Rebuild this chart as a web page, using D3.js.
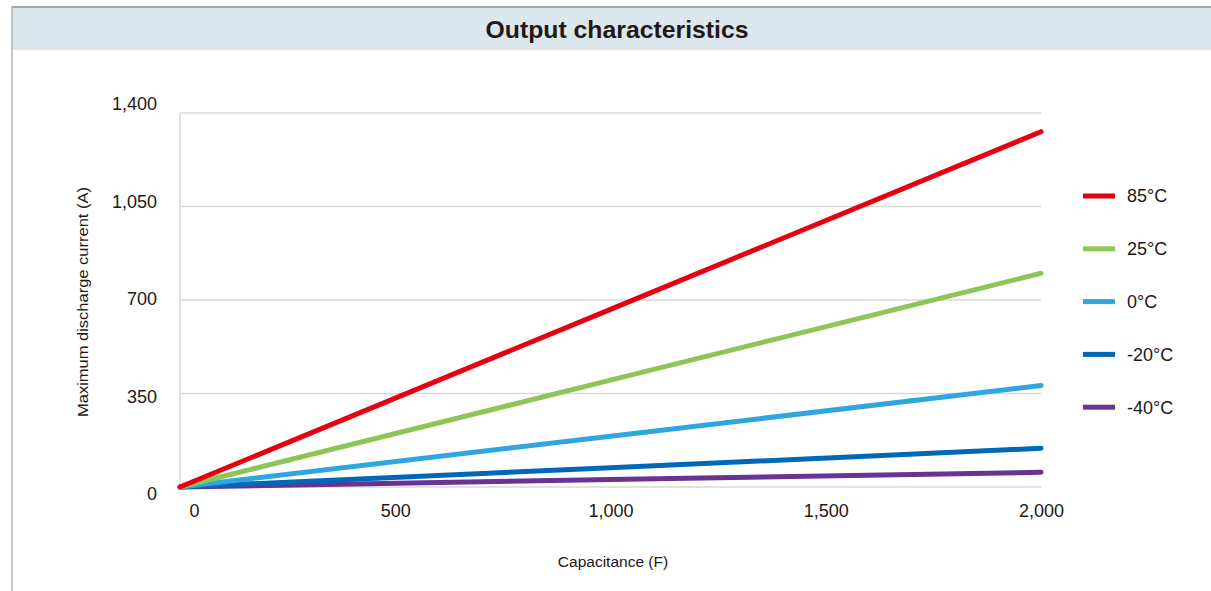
<!DOCTYPE html>
<html>
<head>
<meta charset="utf-8">
<script src="https://cdn.jsdelivr.net/npm/d3@7"></script>
<style>
  html, body { margin: 0; padding: 0; background: #fff; }
  svg { display: block; font-family: "Liberation Sans", Arial, Helvetica, sans-serif; }
</style>
</head>
<body>
<svg id="chart" width="1211" height="591"></svg>
<script>
// ---- data ----
const capacitance = [0, 1000, 2000];
const seriesNames = ["85°C", "25°C", "0°C", "-20°C", "-40°C"];
const current85 = [0, 665, 1330];
const current25 = [0, 400, 800];
const current0 = [0, 190, 380];
const currentM20 = [0, 72, 145];
const currentM40 = [0, 28, 55];
const seriesColors = ["#e60012", "#8dc556", "#2ea7e0", "#0068b7", "#6a3291"];
const yTicks = [0, 350, 700, 1050, 1400];
const xTicks = [0, 500, 1000, 1500, 2000];
const titleText = "Output characteristics";
const xTitle = "Capacitance (F)";
const yTitle = "Maximum discharge current (A)";

const seriesValues = [current85, current25, current0, currentM20, currentM40];
const series = seriesNames.map((n, i) => ({
  name: n, color: seriesColors[i],
  points: capacitance.map((c, j) => ({ x: c, y: seriesValues[i][j] }))
}));

const svg = d3.select("#chart");
const W = 1211, H = 591;
const textColor = "#231815";
const tickFont = 18;

// frame + title band
svg.append("rect").attr("x", 12).attr("y", 7).attr("width", W - 12).attr("height", 43).attr("fill", "#dce6ed");
svg.append("line").attr("x1", 11).attr("x2", W).attr("y1", 7).attr("y2", 7).attr("stroke", "#a3a6a8").attr("stroke-width", 2);
svg.append("line").attr("x1", 12).attr("x2", 12).attr("y1", 6).attr("y2", H).attr("stroke", "#b4b4b4").attr("stroke-width", 1.5);
svg.append("text").attr("x", 617).attr("y", 38).attr("text-anchor", "middle")
  .attr("font-size", 24).attr("fill", textColor).attr("font-weight", "bold")
  .attr("textLength", 263).attr("lengthAdjust", "spacingAndGlyphs").text(titleText);

// scales
const x = d3.scaleLinear().domain([0, 2000]).range([180, 1041]);
const y = d3.scaleLinear().domain([0, 1400]).range([487, 113]);
const yLabel = d3.scaleLinear().domain([0, 1400]).range([494, 104]);

// grid
svg.append("g").selectAll("line").data(yTicks).join("line")
  .attr("x1", 180).attr("x2", x(2000)).attr("y1", d => y(d)).attr("y2", d => y(d))
  .attr("stroke", "#d9d9d9").attr("stroke-width", 1.5);
svg.append("line").attr("x1", 180).attr("x2", 180).attr("y1", y(1400)).attr("y2", y(0))
  .attr("stroke", "#d9d9d9").attr("stroke-width", 1.5);

// y axis labels
const fmt = d3.format(",");
const yAxis = d3.axisLeft(yLabel).tickValues(yTicks).tickFormat(fmt).tickSize(0).tickPadding(0);
const gy = svg.append("g").attr("transform", "translate(157,0)").call(yAxis);
gy.select(".domain").remove();
gy.selectAll("text").attr("font-size", tickFont).attr("fill", textColor).attr("font-family", "Liberation Sans, Arial, sans-serif");

// x axis labels
const xAxis = d3.axisBottom(x).tickValues(xTicks).tickFormat(fmt).tickSize(0).tickPadding(0);
const gx = svg.append("g").attr("transform", "translate(0,504)").call(xAxis);
gx.select(".domain").remove();
gx.selectAll("text").attr("font-size", tickFont).attr("fill", textColor).attr("font-family", "Liberation Sans, Arial, sans-serif")
  .attr("dx", d => d === 0 ? 14 : 0);

// axis titles
svg.append("text").attr("x", 613).attr("y", 567).attr("text-anchor", "middle")
  .attr("font-size", 15.5).attr("fill", textColor).text(xTitle);
svg.append("text").attr("transform", "translate(88,302) rotate(-90)").attr("text-anchor", "middle")
  .attr("font-size", 15.5).attr("fill", textColor)
  .attr("textLength", 230).attr("lengthAdjust", "spacingAndGlyphs").text(yTitle);

// lines
const lineGen = d3.line().x(d => x(d.x)).y(d => y(d.y));
svg.append("g").selectAll("path").data(series.slice().reverse()).join("path")
  .attr("d", d => lineGen(d.points))
  .attr("fill", "none").attr("stroke", d => d.color).attr("stroke-width", 5)
  .attr("stroke-linecap", "round").attr("stroke-linejoin", "round");

// legend
const legend = svg.append("g").selectAll("g").data(series).join("g")
  .attr("transform", (d, i) => `translate(1083,${196 + i * 52.8})`);
legend.append("line").attr("x1", 0).attr("x2", 32).attr("y1", 0).attr("y2", 0)
  .attr("stroke", d => d.color).attr("stroke-width", 5);
legend.append("text").attr("x", 44).attr("y", 0).attr("dy", "0.35em")
  .attr("font-size", tickFont).attr("fill", textColor).text(d => d.name);
</script>
</body>
</html>
